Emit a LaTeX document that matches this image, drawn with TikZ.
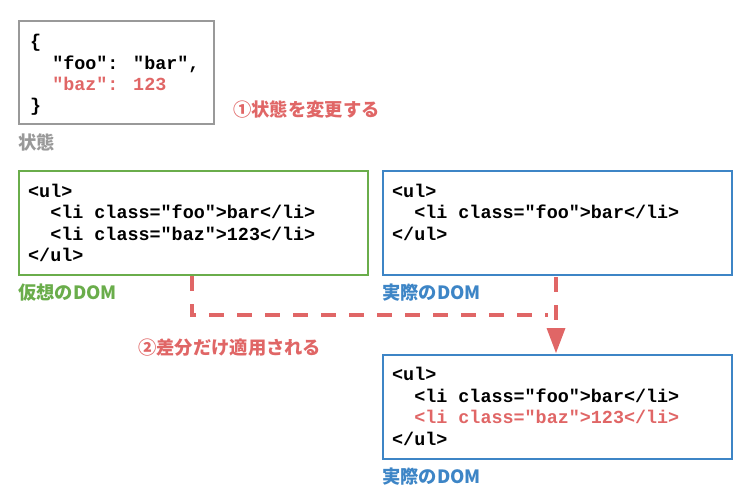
\documentclass[tikz,border=0pt]{standalone}
\usepackage{fontspec}
\newfontfamily\mono{Liberation Mono}
\newfontfamily\jp{Noto Sans CJK JP}
\usetikzlibrary{arrows.meta}
\definecolor{cgray}{HTML}{999999}
\definecolor{cgreen}{HTML}{6AAD4B}
\definecolor{cblue}{HTML}{3D85C6}
\definecolor{cred}{HTML}{E06666}
\tikzset{
  box/.style={draw, line width=2pt, anchor=north west, inner sep=0pt},
  code/.style={anchor=base west, inner sep=0pt, font=\mono\bfseries\fontsize{18.4}{21}\selectfont},
  lbl/.style={anchor=west, inner sep=0pt, font=\jp\bfseries\fontsize{18.3}{20}\selectfont},
  diff/.style={cred, line width=4pt, dash pattern=on 15pt off 13pt}
}
\begin{document}
\begin{tikzpicture}[x=1pt,y=-1pt]
\useasboundingbox (0,0) rectangle (751,503);
% state box
\node[box, cgray, minimum width=195pt, minimum height=103pt] (state) at (18,20) {};
\node[code] (s1) at (30,48) {\{};
\node[code] (s2) at (30,69) {\ \ "foo": "bar",};
\node[code, cred] (s3) at (30,90) {\ \ "baz": 123};
\node[code] (s4) at (30,111) {\}};
\node[lbl, cgray] (statelbl) at (18,142) {状態};
\node[lbl, cred] (step1) at (233,110) {①状態を変更する};
% virtual DOM
\node[box, cgreen, minimum width=349pt, minimum height=104pt] (vdom) at (18,170) {};
\node[code] (v1) at (28,197) {<ul>};
\node[code] (v2) at (28,218.5) {\ \ <li class="foo">bar</li>};
\node[code] (v3) at (28,240) {\ \ <li class="baz">123</li>};
\node[code] (v4) at (28,261.5) {</ul>};
\node[lbl, cgreen] (vlbl) at (18,293) {仮想のDOM};
% real DOM (before)
\node[box, cblue, minimum width=349pt, minimum height=104pt] (rdom) at (382,170) {};
\node[code] (r1) at (392,197) {<ul>};
\node[code] (r2) at (392,218.5) {\ \ <li class="foo">bar</li>};
\node[code] (r3) at (392,240) {</ul>};
\node[lbl, cblue] (rlbl) at (382,293) {実際のDOM};
% real DOM (after)
\node[box, cblue, minimum width=349pt, minimum height=104pt] (rdom2) at (382,354) {};
\node[code] (t1) at (392,380.5) {<ul>};
\node[code] (t2) at (392,402) {\ \ <li class="foo">bar</li>};
\node[code, cred] (t3) at (392,423.5) {\ \ <li class="baz">123</li>};
\node[code] (t4) at (392,445) {</ul>};
\node[lbl, cblue] (r2lbl) at (382,477) {実際のDOM};
\node[lbl, cred] (step2) at (138,348) {②差分だけ適用される};
% connectors
\coordinate (turn) at (548,315);
\draw[diff] (vdom.south west) ++(174,0) |- (turn);
\coordinate (rtop) at ([xshift=174pt]rdom.south west);
\draw[diff] (rtop) ++(0,1) -- ++(0,44);
\coordinate (tip) at ([xshift=174pt]rdom2.north west);
\fill[cred] (tip) ++(0,-1) -- ++(-9.5,-25) -- ++(19,0) -- cycle;
\end{tikzpicture}
\end{document}
